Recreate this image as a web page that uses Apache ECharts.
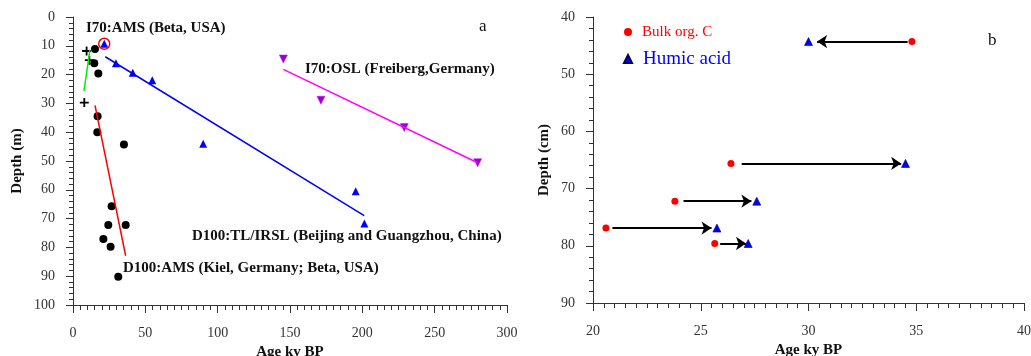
<!DOCTYPE html>
<html>
<head>
<meta charset="utf-8">
<script src="https://cdn.jsdelivr.net/npm/echarts@6/dist/echarts.min.js"></script>
<style>
  html, body { margin: 0; padding: 0; background: #fff; }
  #chart { width: 1031px; height: 356px; }
</style>
</head>
<body>
<div id="chart"></div>
<script>
// panel a: ages (ky BP) and depths (m)
const amsAge = [15.2, 14.7, 17.5, 17, 16.8, 35.2, 26.7, 24.4, 36.4, 21, 26, 31.3]
const amsDepth = [11.1, 16.1, 19.6, 34.5, 40, 44.3, 65.7, 72.2, 72.2, 77.1, 79.8, 90.2]
const crossAge = [9.4, 11.3, 7.8]
const crossDepth = [11.8, 15, 29.7]
const tlAge = [21.6, 29.7, 41.3, 54.8, 90, 195.4, 201.4]
const tlDepth = [9.3, 16.1, 19.4, 22, 44, 60.5, 71.7]
const circledAge = [21.6]
const circledDepth = [9.3]
const oslAge = [145.4, 171.4, 229, 279.7]
const oslDepth = [14.6, 28.9, 38.4, 50.6]
// regression lines, [age, depth] endpoints
const greenFit = [[11.7, 11.3], [7.6, 25.7]]
const redFit = [[15.2, 30.7], [36.4, 82.9]]
const blueFit = [[22.3, 13.8], [201.3, 69]]
const magentaFit = [[145.4, 18.2], [279.7, 50.6]]

// panel b: ages (ky BP) and depths (cm)
const bDepth = [44.3, 65.6, 72.2, 76.9, 79.6]
const bulkAge = [34.8, 26.4, 23.8, 20.6, 25.65]
const humicAge = [30.0, 34.5, 27.6, 25.75, 27.2]
const arrowFrom = [34.6, 26.9, 24.2, 20.9, 25.9]
const arrowTo = [30.4, 34.3, 27.35, 25.5, 27.1]

const pairs = (xs, ys) => xs.map((x, i) => [x, ys[i]])

const serif = 'Liberation Serif, Times New Roman, serif'
const axisColor = '#333'

function valueAxis(grid, min, max, interval, minorSplit, isY, name, gap) {
  return {
    type: 'value',
    gridIndex: grid,
    min, max, interval,
    inverse: isY,
    name,
    nameLocation: 'middle',
    nameGap: gap,
    nameTextStyle: { fontFamily: serif, fontSize: 15, fontWeight: 'bold', color: '#111' },
    axisLine: { show: true, onZero: false, lineStyle: { color: axisColor, width: 1 } },
    axisTick: { show: true, length: isY ? 7 : 8, lineStyle: { color: axisColor } },
    minorTick: { show: true, splitNumber: minorSplit, length: isY ? 4 : 5, lineStyle: { color: axisColor } },
    axisLabel: { fontFamily: serif, fontSize: 14, color: '#333', margin: isY ? 18 : 21 },
    splitLine: { show: false }
  }
}

const chart = echarts.init(document.getElementById('chart'))

chart.setOption({
  animation: false,
  grid: [
    { left: 73, top: 17, width: 434, height: 288, outerBoundsMode: 'none' },
    { left: 593, top: 17, width: 431, height: 286, outerBoundsMode: 'none' }
  ],
  xAxis: [
    valueAxis(0, 0, 300, 50, 10, false, 'Age ky BP', 38),
    valueAxis(1, 20, 40, 5, 10, false, 'Age ky BP', 39)
  ],
  yAxis: [
    valueAxis(0, 0, 100, 10, 5, true, 'Depth (m)', 48),
    valueAxis(1, 40, 90, 10, 5, true, 'Depth (cm)', 41)
  ],
  legend: {
    orient: 'vertical',
    left: 623,
    top: 24,
    itemWidth: 8,
    itemHeight: 8,
    itemGap: 9,
    padding: 0,
    selectedMode: false,
    data: [
      { name: 'Bulk org. C', icon: 'circle', textStyle: { color: '#ff0000', fontSize: 15, fontFamily: serif, lineHeight: 16, padding: [0, 0, 0, 5] } },
      { name: 'Humic acid', icon: 'triangle', textStyle: { color: '#0000ff', fontSize: 19, fontFamily: serif, lineHeight: 20, padding: [0, 0, 0, 6] } }
    ]
  },
  graphic: [
    { type: 'text', left: 86, top: 21, style: { text: 'I70:AMS (Beta, USA)', font: 'bold 15px ' + serif, fill: '#111' } },
    { type: 'text', left: 305, top: 62, style: { text: 'I70:OSL (Freiberg,Germany)', font: 'bold 15px ' + serif, fill: '#111' } },
    { type: 'text', left: 192, top: 229, style: { text: 'D100:TL/IRSL (Beijing and Guangzhou, China)', font: 'bold 15px ' + serif, fill: '#111' } },
    { type: 'text', left: 123, top: 261, style: { text: 'D100:AMS (Kiel, Germany; Beta, USA)', font: 'bold 15px ' + serif, fill: '#111' } },
    { type: 'text', left: 479, top: 18, style: { text: 'a', font: '17px ' + serif, fill: '#111' } },
    { type: 'text', left: 988, top: 32, style: { text: 'b', font: '17px ' + serif, fill: '#111' } }
  ],
  series: [
    { type: 'line', xAxisIndex: 0, yAxisIndex: 0, data: greenFit, symbol: 'none', lineStyle: { color: '#00ee00', width: 1.5 } },
    { type: 'line', xAxisIndex: 0, yAxisIndex: 0, data: redFit, symbol: 'none', lineStyle: { color: '#ff0000', width: 1.5 } },
    { type: 'line', xAxisIndex: 0, yAxisIndex: 0, data: blueFit, symbol: 'none', lineStyle: { color: '#0000ff', width: 1.5 } },
    { type: 'line', xAxisIndex: 0, yAxisIndex: 0, data: magentaFit, symbol: 'none', lineStyle: { color: '#ff00ff', width: 1.5 } },
    {
      type: 'scatter', xAxisIndex: 0, yAxisIndex: 0, data: pairs(amsAge, amsDepth),
      symbol: 'circle', symbolSize: 8, itemStyle: { color: '#000', opacity: 1 }
    },
    {
      type: 'scatter', xAxisIndex: 0, yAxisIndex: 0, data: pairs(crossAge, crossDepth),
      symbol: 'path://M4 0h2v4h4v2h-4v4h-2v-4h-4v-2h4z', symbolSize: 9, itemStyle: { color: '#000', opacity: 1 }
    },
    {
      type: 'scatter', xAxisIndex: 0, yAxisIndex: 0, data: pairs(tlAge, tlDepth),
      symbol: 'triangle', symbolSize: 8, itemStyle: { color: '#0000ff', opacity: 1 }
    },
    {
      type: 'scatter', xAxisIndex: 0, yAxisIndex: 0, data: pairs(circledAge, circledDepth),
      symbol: 'circle', symbolSize: 11, itemStyle: { color: 'transparent', borderColor: '#ff0000', borderWidth: 1.5, opacity: 1 }
    },
    {
      type: 'scatter', xAxisIndex: 0, yAxisIndex: 0, data: pairs(oslAge, oslDepth),
      symbol: 'triangle', symbolRotate: 180, symbolSize: 8, itemStyle: { color: '#9900cc', borderColor: '#cc00ff', borderWidth: 0.5, opacity: 1 }
    },
    {
      type: 'lines', coordinateSystem: 'cartesian2d', xAxisIndex: 1, yAxisIndex: 1,
      data: arrowFrom.map((a, i) => ({ coords: [[a, bDepth[i]], [arrowTo[i], bDepth[i]]] })),
      symbol: ['none', 'arrow'], symbolSize: 10,
      lineStyle: { color: '#000', width: 2, opacity: 1 }
    },
    {
      name: 'Bulk org. C', type: 'scatter', xAxisIndex: 1, yAxisIndex: 1, data: pairs(bulkAge, bDepth),
      symbol: 'circle', symbolSize: 7, itemStyle: { color: '#ff0000', opacity: 1 }
    },
    {
      name: 'Humic acid', type: 'scatter', xAxisIndex: 1, yAxisIndex: 1, data: pairs(humicAge, bDepth),
      symbol: 'triangle', symbolSize: 8, itemStyle: { color: '#0000ff', borderColor: '#000066', borderWidth: 0.6, opacity: 1 }
    }
  ]
})
</script>
</body>
</html>
